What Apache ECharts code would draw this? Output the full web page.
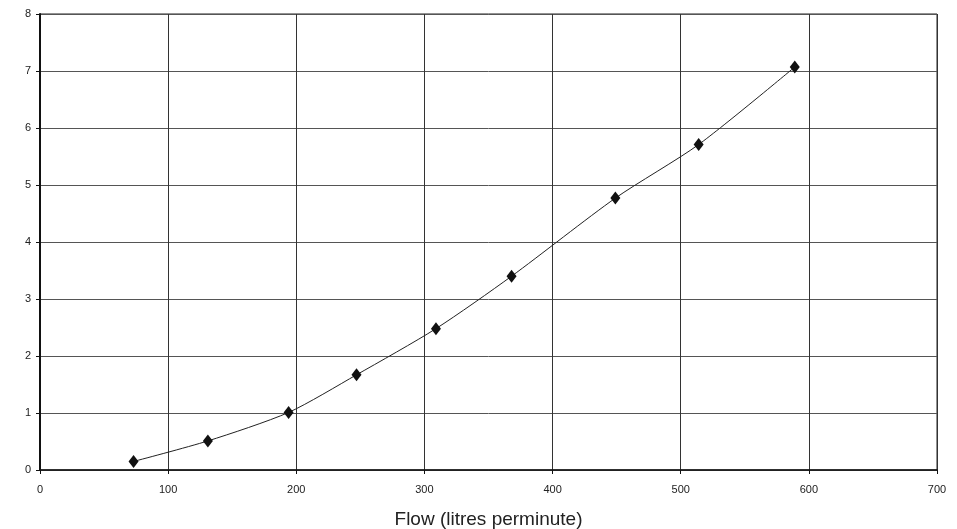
<!DOCTYPE html>
<html><head><meta charset="utf-8">
<script src="https://cdn.jsdelivr.net/npm/echarts@6/dist/echarts.min.js"></script>
<style>html,body{margin:0;padding:0;background:#fff}#c{width:957px;height:529px}</style>
</head><body><div id="c"></div>
<script>
const flow = [73, 131, 194, 247, 309, 368, 449, 514, 589];
const values = [0.15, 0.51, 1.01, 1.67, 2.48, 3.40, 4.77, 5.71, 7.07];
const xTitle = 'Flow (litres perminute)';
const chart = echarts.init(document.getElementById('c'));
const font = 'Liberation Sans, Arial, sans-serif';
chart.setOption({
  animation: false,
  backgroundColor: '#fff',
  grid: {left: 40, right: 20, top: 14, bottom: 59, containLabel: false, outerBoundsMode: 'none',
         show: true, borderColor: '#222', borderWidth: 1},
  xAxis: {
    type: 'value', min: 0, max: 700, interval: 100,
    name: xTitle, nameLocation: 'middle', nameGap: 40,
    nameTextStyle: {fontFamily: font, fontSize: 19, color: '#222'},
    axisLine: {show: true, lineStyle: {color: '#111', width: 1.5}},
    axisTick: {show: true, length: 4, lineStyle: {color: '#111'}},
    axisLabel: {fontFamily: font, fontSize: 11, color: '#222', margin: 14},
    splitLine: {show: true, lineStyle: {color: '#333', width: 1}}
  },
  yAxis: {
    type: 'value', min: 0, max: 8, interval: 1,
    axisLine: {show: true, lineStyle: {color: '#111', width: 2}},
    axisTick: {show: true, length: 4, lineStyle: {color: '#111'}},
    axisLabel: {fontFamily: font, fontSize: 11, color: '#222', margin: 9},
    splitLine: {show: true, lineStyle: {color: '#555', width: 1}}
  },
  series: [{
    type: 'line',
    data: flow.map((f, i) => [f, values[i]]),
    smooth: 0.25,
    symbol: 'diamond',
    symbolSize: [10, 13],
    itemStyle: {color: '#111'},
    lineStyle: {color: '#222', width: 1}
  }]
});
</script></body></html>
